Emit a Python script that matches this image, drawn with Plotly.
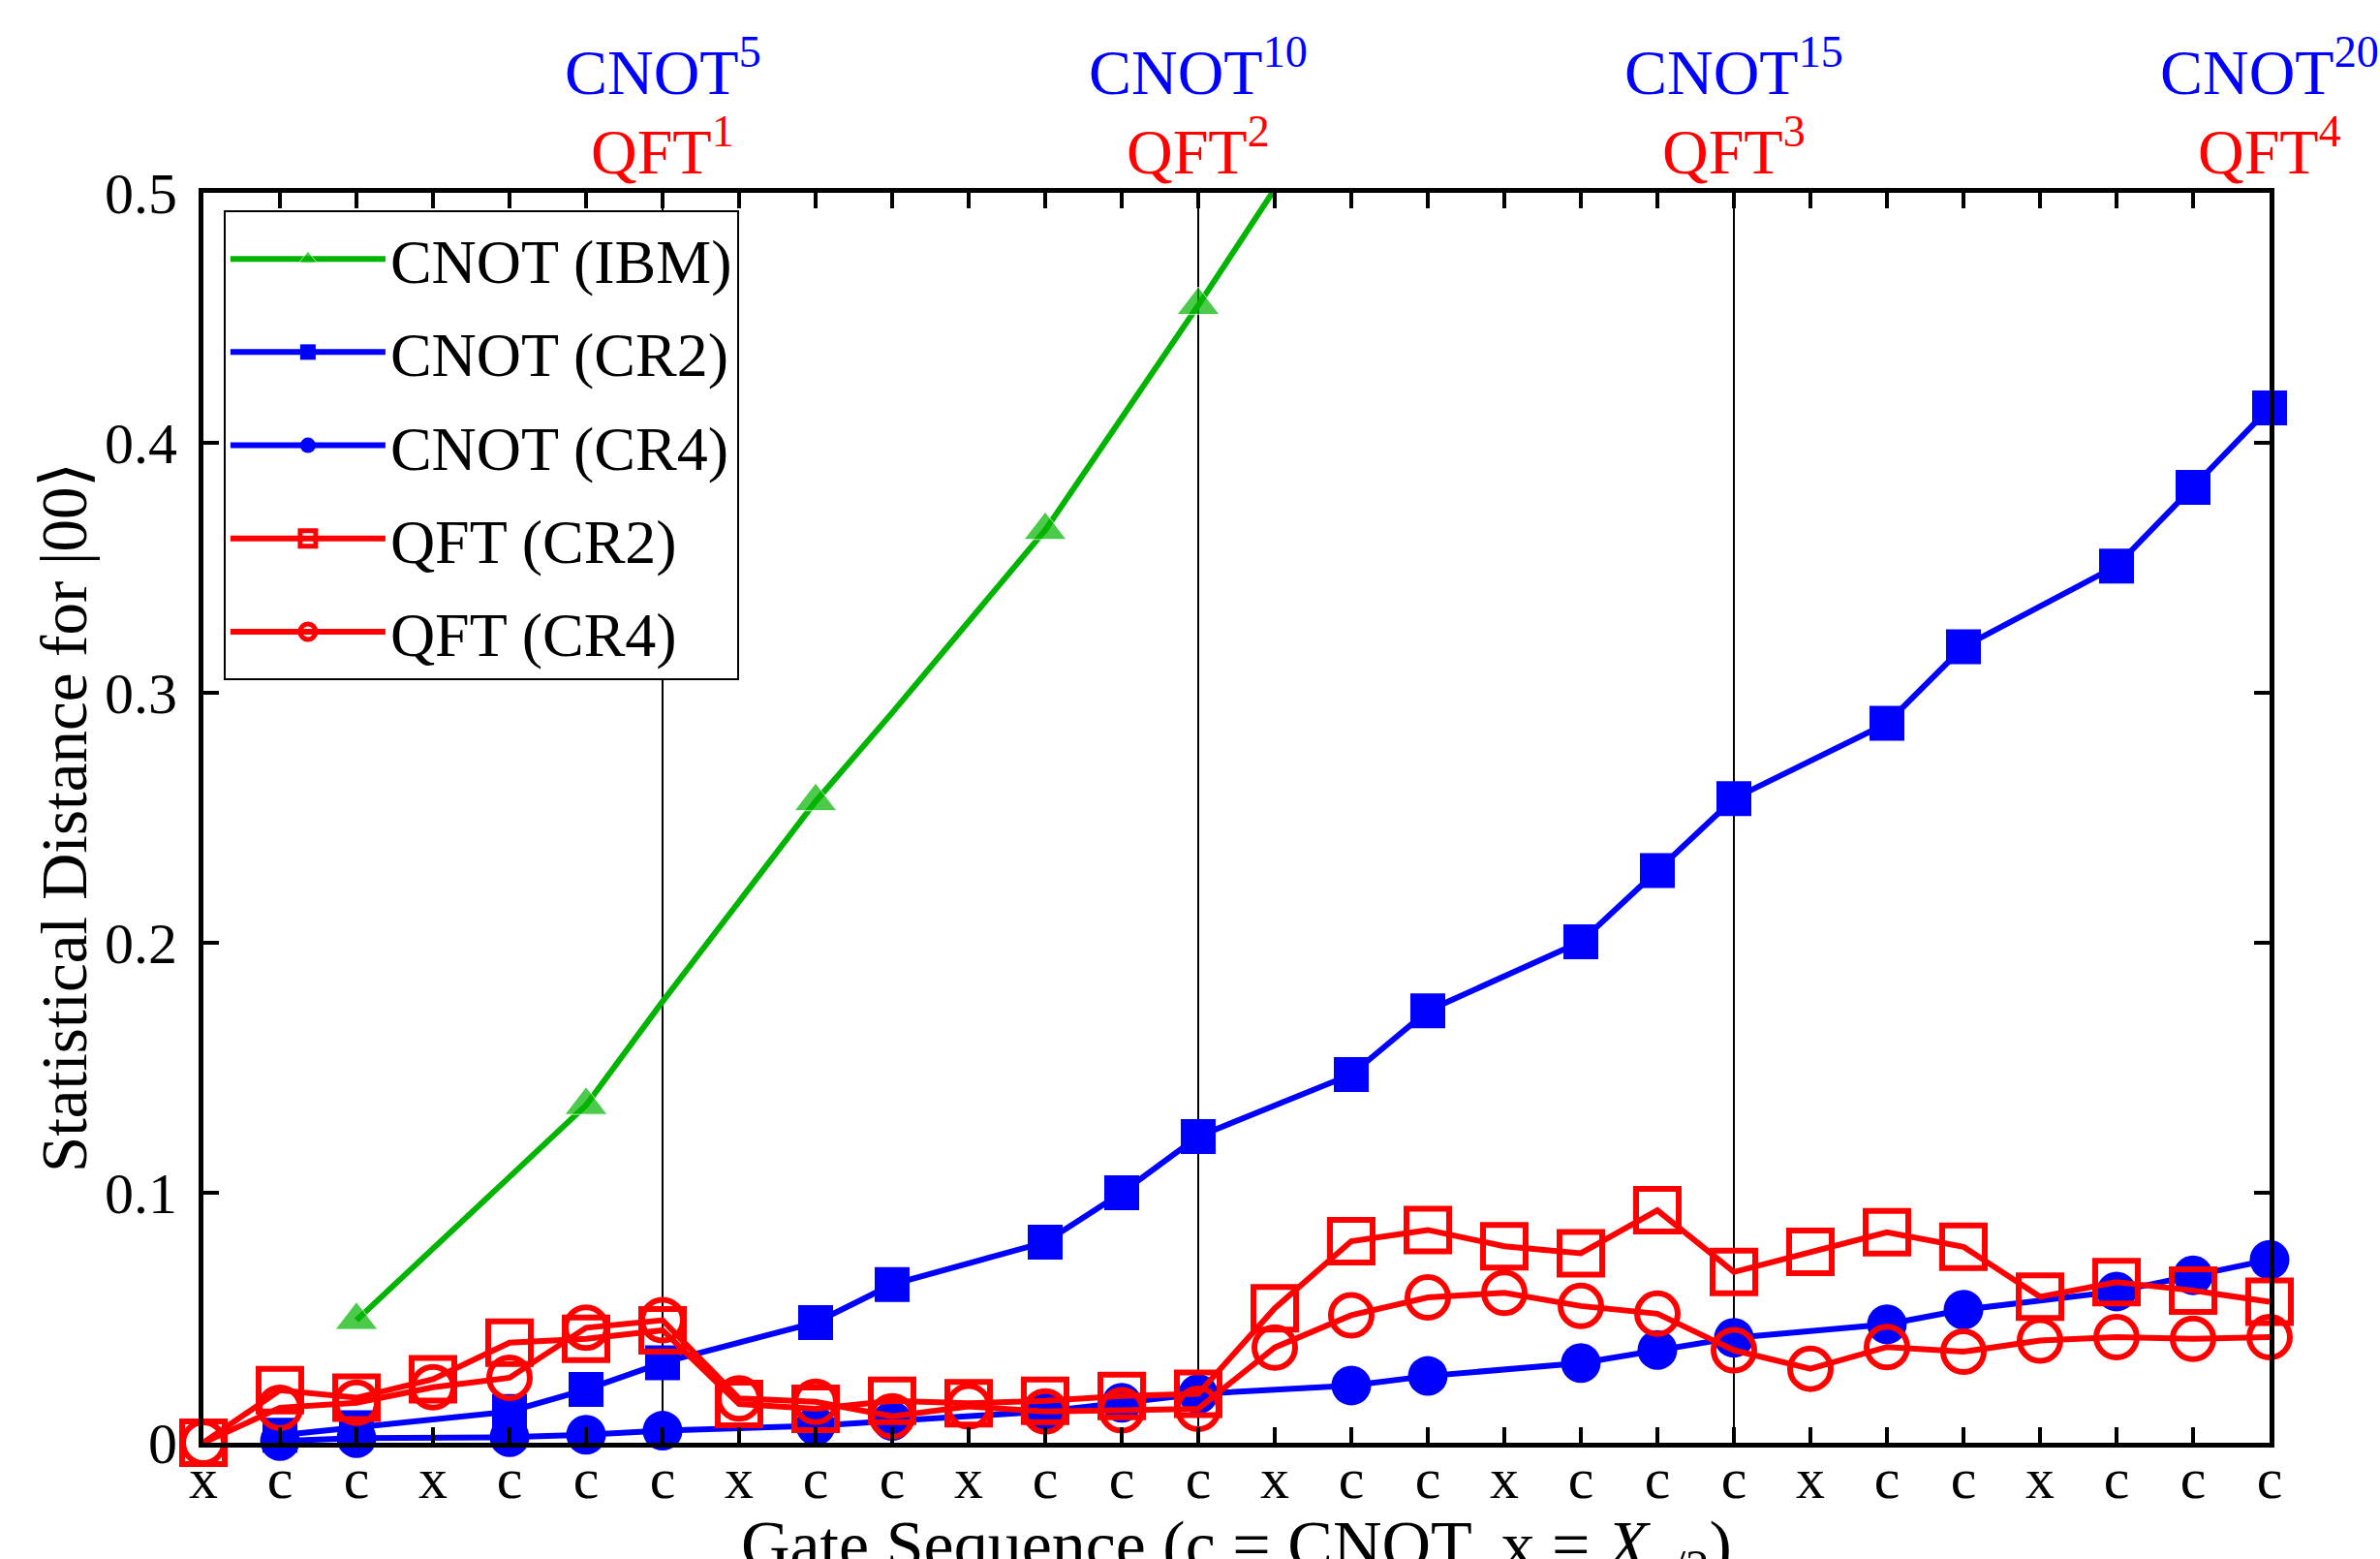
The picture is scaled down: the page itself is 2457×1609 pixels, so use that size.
import plotly.graph_objects as go

# ---------------- data ----------------
gates = ["x", "c", "c", "x", "c", "c", "c", "x", "c", "c", "x", "c", "c", "c",
         "x", "c", "c", "x", "c", "c", "c", "x", "c", "c", "x", "c", "c", "c"]
positions = list(range(len(gates)))
cnot_positions = [i for i, g in enumerate(gates) if g == "c"]

ibm_x = [2, 4, 5, 6, 8, 9, 11, 12, 13, 15]
ibm_y = [0.049, 0.106, 0.135, 0.1765, 0.2565, 0.292, 0.365, 0.41, 0.455, 0.548]

cnot_cr2 = [0.003, 0.006, 0.0125, 0.0213, 0.032, 0.0481, 0.0633, 0.0802, 0.100, 0.1225,
            0.1473, 0.1728, 0.2004, 0.2289, 0.2577, 0.2878, 0.3184, 0.3507, 0.3822, 0.414]
cnot_cr4 = [0.0007, 0.0018, 0.0022, 0.0032, 0.0048, 0.0068, 0.0087, 0.0125, 0.016, 0.0195,
            0.0229, 0.0267, 0.0319, 0.0371, 0.042, 0.0474, 0.0532, 0.0605, 0.067, 0.0732]

qft_cr2 = [0.0, 0.021, 0.018, 0.0254, 0.040, 0.0416, 0.045, 0.0155, 0.0136, 0.0168,
           0.0158, 0.0168, 0.0187, 0.0196, 0.0538, 0.0806, 0.0851, 0.0786, 0.0758, 0.093,
           0.0683, 0.0764, 0.0842, 0.0784, 0.0584, 0.0642, 0.0609, 0.0564]
qft_cr4 = [0.0, 0.014, 0.016, 0.0222, 0.026, 0.046, 0.049, 0.0177, 0.0164, 0.0106,
           0.0145, 0.0125, 0.013, 0.0136, 0.0381, 0.051, 0.0581, 0.060, 0.0547, 0.0516,
           0.037, 0.0296, 0.0383, 0.0364, 0.0409, 0.0422, 0.0416, 0.0422]

milestones = [6, 13, 20, 27]
cnot_counts = [5, 10, 15, 20]
qft_counts = [1, 2, 3, 4]

y_ticks = [0, 0.1, 0.2, 0.3, 0.4, 0.5]
y_ticktext = ["0", "0.1", "0.2", "0.3", "0.4", "0.5"]

# ---------------- style ----------------
FONT = "Liberation Serif"
GREEN = "#00b400"
BLUE = "#0000ff"
RED = "#ff0000"
LW = 6

fig = go.Figure()

ibm_sizes = [38 if k % 2 == 0 else 0 for k in range(len(ibm_x))]
fig.add_trace(go.Scatter(
    x=ibm_x, y=ibm_y, mode="lines+markers", name="CNOT (IBM)",
    line=dict(color=GREEN, width=LW),
    marker=dict(symbol="triangle-up", size=ibm_sizes, color=GREEN),
    cliponaxis=True, legendgroup="a"))
fig.add_trace(go.Scatter(
    x=cnot_positions, y=cnot_cr2, mode="lines+markers", name="CNOT (CR2)",
    line=dict(color=BLUE, width=LW),
    marker=dict(symbol="square", size=36, color=BLUE),
    cliponaxis=False, legendgroup="b"))
fig.add_trace(go.Scatter(
    x=cnot_positions, y=cnot_cr4, mode="lines+markers", name="CNOT (CR4)",
    line=dict(color=BLUE, width=LW),
    marker=dict(symbol="circle", size=41, color=BLUE),
    cliponaxis=False, legendgroup="c"))
fig.add_trace(go.Scatter(
    x=positions, y=qft_cr2, mode="lines+markers", name="QFT (CR2)",
    line=dict(color=RED, width=LW),
    marker=dict(symbol="square-open", size=44, color=RED, line=dict(width=6, color=RED)),
    cliponaxis=False, legendgroup="d"))
fig.add_trace(go.Scatter(
    x=positions, y=qft_cr4, mode="lines+markers", name="QFT (CR4)",
    line=dict(color=RED, width=LW),
    marker=dict(symbol="circle-open", size=42, color=RED, line=dict(width=6, color=RED)),
    cliponaxis=False, legendgroup="e"))

for m in milestones[:-1]:
    fig.add_shape(type="line", xref="x", yref="paper", x0=m, x1=m, y0=0, y1=1,
                  line=dict(color="black", width=2), layer="below")

annotations = []
for m, nc, nq in zip(milestones, cnot_counts, qft_counts):
    annotations.append(dict(x=m, y=1.100, xref="x", yref="paper", showarrow=False,
                            text=f"CNOT<sup>{nc}</sup>", xanchor="center", yanchor="middle",
                            font=dict(family=FONT, size=66, color=BLUE)))
    annotations.append(dict(x=m, y=1.037, xref="x", yref="paper", showarrow=False,
                            text=f"QFT<sup>{nq}</sup>", xanchor="center", yanchor="middle",
                            font=dict(family=FONT, size=66, color=RED)))
annotations.append(dict(x=-0.0675, y=0.5, xref="paper", yref="paper", showarrow=False,
                        text="Statistical Distance for |00⟩", textangle=-90,
                        xanchor="center", yanchor="middle",
                        font=dict(family=FONT, size=67, color="black")))
annotations.append(dict(x=0.5, y=-0.050, xref="paper", yref="paper", showarrow=False,
                        text="Gate Sequence (c = CNOT, x = <i>X</i><sub><i>π</i>/2</sub>)",
                        xanchor="center", yanchor="top",
                        font=dict(family=FONT, size=70, color="black")))

axis_common = dict(showgrid=False, zeroline=False, showline=True, linecolor="black",
                   linewidth=5, ticks="inside", ticklen=16, tickwidth=4, tickcolor="black",
                   mirror="allticks", tickfont=dict(family=FONT, size=60, color="black"))

fig.update_layout(
    width=2457, height=1609,
    margin=dict(l=210, r=114, t=199, b=120),
    paper_bgcolor="white", plot_bgcolor="white",
    xaxis=dict(range=[0, 27], tickmode="array", tickvals=positions, ticktext=gates,
               ticklabelstandoff=-20, **axis_common),
    yaxis=dict(range=[0, 0.5], tickmode="array", tickvals=y_ticks, ticktext=y_ticktext,
               ticklabelstandoff=10, **axis_common),
    legend=dict(x=0.0098, y=0.986, xanchor="left", yanchor="top",
                bgcolor="white", bordercolor="black", borderwidth=2,
                font=dict(family=FONT, size=64, color="black"),
                itemwidth=160, tracegroupgap=10, traceorder="grouped"),
    annotations=annotations,
    showlegend=True,
)

fig.write_html("out.html", config={"displayModeBar": False},
               post_script="document.body.style.margin='0';document.body.style.overflow='hidden';")
